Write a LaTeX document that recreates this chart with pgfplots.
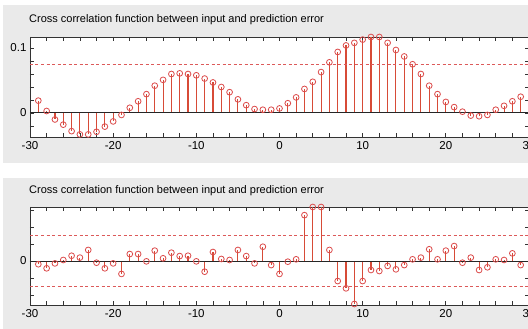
\documentclass[border=0pt]{standalone}
\usepackage{fontspec}
\setmainfont{Liberation Sans}
\usepackage{pgfplots}
\usepackage{pgfplotstable}
\pgfplotsset{compat=1.18}
\definecolor{panelgray}{RGB}{234,234,234}
\definecolor{stemred}{RGB}{215,75,55}
\definecolor{markred}{RGB}{220,75,75}
\definecolor{dashred}{RGB}{220,90,90}

\pgfplotstableread{
lag val
-29 0.019
-28 0.003
-27 -0.010
-26 -0.018
-25 -0.028
-24 -0.033
-23 -0.033
-22 -0.029
-21 -0.021
-20 -0.013
-19 -0.003
-18 0.008
-17 0.018
-16 0.029
-15 0.042
-14 0.051
-13 0.060
-12 0.061
-11 0.060
-10 0.058
-9 0.053
-8 0.047
-7 0.040
-6 0.032
-5 0.021
-4 0.012
-3 0.006
-2 0.005
-1 0.005
0 0.007
1 0.015
2 0.024
3 0.037
4 0.048
5 0.063
6 0.078
7 0.094
8 0.104
9 0.108
10 0.113
11 0.117
12 0.117
13 0.108
14 0.097
15 0.087
16 0.075
17 0.060
18 0.042
19 0.029
20 0.017
21 0.009
22 0.002
23 -0.004
24 -0.005
25 -0.003
26 0.005
27 0.011
28 0.018
29 0.025
}\topdata

\pgfplotstableread{
lag val
-29 -0.019
-28 -0.043
-27 -0.014
-26 0.006
-25 0.031
-24 0.020
-23 0.065
-22 -0.010
-21 -0.043
-20 -0.014
-19 -0.076
-18 0.041
-17 0.041
-16 -0.002
-15 0.061
-14 0.016
-13 0.049
-12 0.029
-11 0.031
-10 -0.002
-9 -0.063
-8 0.053
-7 0.012
-6 0.006
-5 0.065
-4 0.029
-3 -0.014
-2 0.084
-1 -0.024
0 -0.076
1 -0.004
2 0.010
3 0.270
4 0.318
5 0.318
6 0.065
7 -0.118
8 -0.161
9 -0.253
10 -0.118
11 -0.053
12 -0.059
13 -0.029
14 -0.049
15 -0.024
16 0.010
17 0.020
18 0.069
19 0.010
20 0.061
21 0.088
22 -0.010
23 0.020
24 -0.053
25 -0.037
26 0.010
27 0.006
28 0.045
29 -0.024
}\botdata

\pgfplotsset{
  mlstyle/.style={
    scale only axis,
    anchor=south west,
    width=499pt,
    xmin=-30, xmax=30,
    axis background/.style={fill=white},
    axis line style={black!80, line width=0.9pt},
    tick style={black!80, line width=0.7pt},
    tick align=inside,
    major tick length=4pt,
    xtick={-30,-28,...,30},
    xticklabels={-30,,,,,-20,,,,,-10,,,,,0,,,,,10,,,,,20,,,,,30},
    ticklabel style={font=\fontsize{11.5}{13}\selectfont},
    xticklabel style={yshift=-1pt},
    clip=true,
  },
  stems/.style={ycomb, color=stemred, line width=1.1pt, no markers},
  tips/.style={only marks, mark=o, mark size=2.9pt, mark options={draw=markred, fill=white, line width=0.8pt}},
}

\begin{document}
\begin{tikzpicture}
\fill[white] (0pt,0pt) rectangle (528pt,329pt);
\fill[panelgray] (3pt,166pt) rectangle (540pt,324pt);
\fill[panelgray] (3pt,-5pt) rectangle (540pt,151pt);
\node[anchor=base west, font=\fontsize{11}{13}\selectfont, inner sep=0] at (29pt,306pt) {Cross correlation function between input and prediction error};
\node[anchor=base west, font=\fontsize{11}{13}\selectfont, inner sep=0] at (29pt,135pt) {Cross correlation function between input and prediction error};

\begin{axis}[mlstyle, at={(30pt,192pt)}, height=100pt,
  ymin=-0.037, ymax=0.117,
  ytick={-0.02,0,0.02,0.04,0.06,0.08,0.1},
  yticklabels={,0,,,,,0.1}]
  \addplot[stems] table[x=lag, y=val] {\topdata};
  \addplot[black!85, line width=1pt] coordinates {(-30,0) (30,0)};
  \addplot[dashred, line width=0.8pt, dash pattern=on 3pt off 2.5pt] coordinates {(-30,0.0754) (30,0.0754)};
  \addplot[tips] table[x=lag, y=val] {\topdata};
\end{axis}

\begin{axis}[mlstyle, at={(30pt,24pt)}, height=98pt,
  ymin=-0.259, ymax=0.318,
  ytick={-0.2,-0.1,0,0.1,0.2,0.3},
  yticklabels={,,0,,,}]
  \addplot[stems] table[x=lag, y=val] {\botdata};
  \addplot[black!85, line width=1pt] coordinates {(-30,0) (30,0)};
  \addplot[dashred, line width=0.8pt, dash pattern=on 3pt off 2.5pt] coordinates {(-30,0.15) (30,0.15)};
  \addplot[dashred, line width=0.8pt, dash pattern=on 3pt off 2.5pt] coordinates {(-30,-0.15) (30,-0.15)};
  \addplot[tips] table[x=lag, y=val] {\botdata};
\end{axis}
\pgfresetboundingbox
\useasboundingbox (0pt,0pt) rectangle (528pt,329pt);
\end{tikzpicture}
\end{document}
